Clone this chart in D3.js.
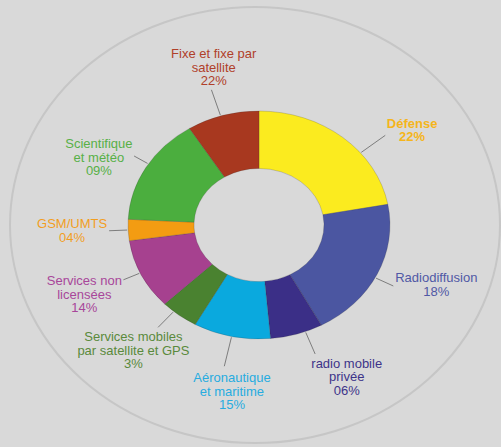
<!DOCTYPE html>
<html>
<head>
<meta charset="utf-8">
<script src="https://cdn.jsdelivr.net/npm/d3@7"></script>
<style>
  body { margin: 0; background: #d9d9d9; }
  svg { display: block; }
</style>
</head>
<body>
<div class="vis"></div>
<script>
var w = 501;
var h = 447;

// Slices as drawn (share of the ring), clockwise from 12 o'clock
var categories = ["Défense", "Radiodiffusion", "radio mobile privée", "Aéronautique et maritime",
                  "Services mobiles par satellite et GPS", "Services non licensées", "GSM/UMTS",
                  "Scientifique et météo", "Fixe et fixe par satellite"];
var shares = [22.1, 20, 6.5, 9.5, 4.7, 10, 3, 15.3, 8.9];

// Label text as printed on the chart
var labelLines = [
    ["Défense"],
    ["Radiodiffusion"],
    ["radio mobile", "privée"],
    ["Aéronautique", "et maritime"],
    ["Services mobiles", "par satellite et GPS"],
    ["Services non", "licensées"],
    ["GSM/UMTS"],
    ["Scientifique", "et météo"],
    ["Fixe et fixe par", "satellite"]
];
var percentLabels = ["22%", "18%", "06%", "15%", "3%", "14%", "04%", "09%", "22%"];

var sliceColors = ["#fbeb1f", "#4b56a1", "#3b2f87", "#0aa9de", "#4a8230", "#a6418f", "#f39c12", "#4bae3e", "#a8381f"];
var textColors  = ["#f5b51b", "#5058a5", "#3d3489", "#27ace0", "#5a8a3c", "#a8469a", "#f29e1f", "#57b047", "#b0402a"];

// layout nudges: label angle offset (deg) from slice middle, label distance, leader angle offset
var labelShift = [14.75, -4.5, -10, -4, 3.5, 1.4, 0.5, -4.5, 2];
var labelDist  = [188, 190, 195, 193, 191, 192, 187, 178, 187];
var lineShift  = [11, 2, -4, 0, 3, 1, 0, 2, -1];

var cx = 259, cy = 225;
var squash = 0.87;      // the whole picture is a bit wider than tall
var outerR = 131, innerR = 65;
var lineFrom = 132, lineMax = 166;
var lineH = 13.5;

var svg = d3.select(".vis")
    .append("svg")
    .attr("width", w)
    .attr("height", h)
    .style("font-family", "'Liberation Sans', Arial, sans-serif");

svg.append("rect")
    .attr("width", w)
    .attr("height", h)
    .attr("fill", "#d9d9d9");

// big outer ring
svg.append("ellipse")
    .attr("cx", 255)
    .attr("cy", 225)
    .attr("rx", 245)
    .attr("ry", 218)
    .attr("fill", "none")
    .attr("stroke", "#c6c6c6")
    .attr("stroke-width", 2);

var pie = d3.pie().sort(null).value(d => d);
var arcs = pie(shares);

var arc = d3.arc()
    .innerRadius(innerR)
    .outerRadius(outerR);

var donut = svg.append("g")
    .attr("transform", `translate(${cx},${cy}) scale(1,${squash})`);

donut.selectAll("path")
    .data(arcs)
    .enter()
    .append("path")
    .attr("d", arc)
    .attr("fill", (d, i) => sliceColors[i])
    .attr("stroke", "rgba(40,40,40,0.35)")
    .attr("stroke-width", 0.6);

// point at angle a (radians, clockwise from top) and radius r, in page coords
function polar(a, r) {
    return [cx + Math.sin(a) * r, cy - Math.cos(a) * r * squash];
}

function midAngle(d) {
    return (d.startAngle + d.endAngle) / 2;
}

var rad = Math.PI / 180;

// labels
var labels = svg.selectAll("text.lbl")
    .data(arcs)
    .enter()
    .append("text")
    .attr("class", "lbl")
    .attr("text-anchor", "middle")
    .attr("font-size", 13)
    .attr("font-weight", (d, i) => i === 0 ? "bold" : "normal")
    .attr("fill", (d, i) => textColors[i]);

labels.each(function (d, i) {
    var lines = labelLines[i].concat([percentLabels[i]]);
    var p = polar(midAngle(d) + labelShift[i] * rad, labelDist[i]);
    var top = p[1] - (lines.length - 1) * lineH / 2 + 4.5;
    var t = d3.select(this);
    lines.forEach((s, k) => {
        t.append("tspan")
            .attr("x", p[0])
            .attr("y", top + k * lineH)
            .text(s);
    });
});

// leader lines: go out from the ring until they reach the label box
var boxes = [];
labels.each(function () { boxes.push(this.getBBox()); });

svg.selectAll("line.leader")
    .data(arcs)
    .enter()
    .append("line")
    .attr("class", "leader")
    .each(function (d, i) {
        var a = midAngle(d) + lineShift[i] * rad;
        var b = boxes[i], pad = 1.5;
        var r = lineFrom;
        while (r < lineMax) {
            var q = polar(a, r + 0.5);
            if (q[0] > b.x - pad && q[0] < b.x + b.width + pad &&
                q[1] > b.y - pad && q[1] < b.y + b.height + pad) break;
            r += 0.5;
        }
        var p0 = polar(a, lineFrom), p1 = polar(a, r);
        d3.select(this)
            .attr("x1", p0[0]).attr("y1", p0[1])
            .attr("x2", p1[0]).attr("y2", p1[1]);
    })
    .attr("stroke", "#555")
    .attr("stroke-width", 0.7);
</script>
</body>
</html>
